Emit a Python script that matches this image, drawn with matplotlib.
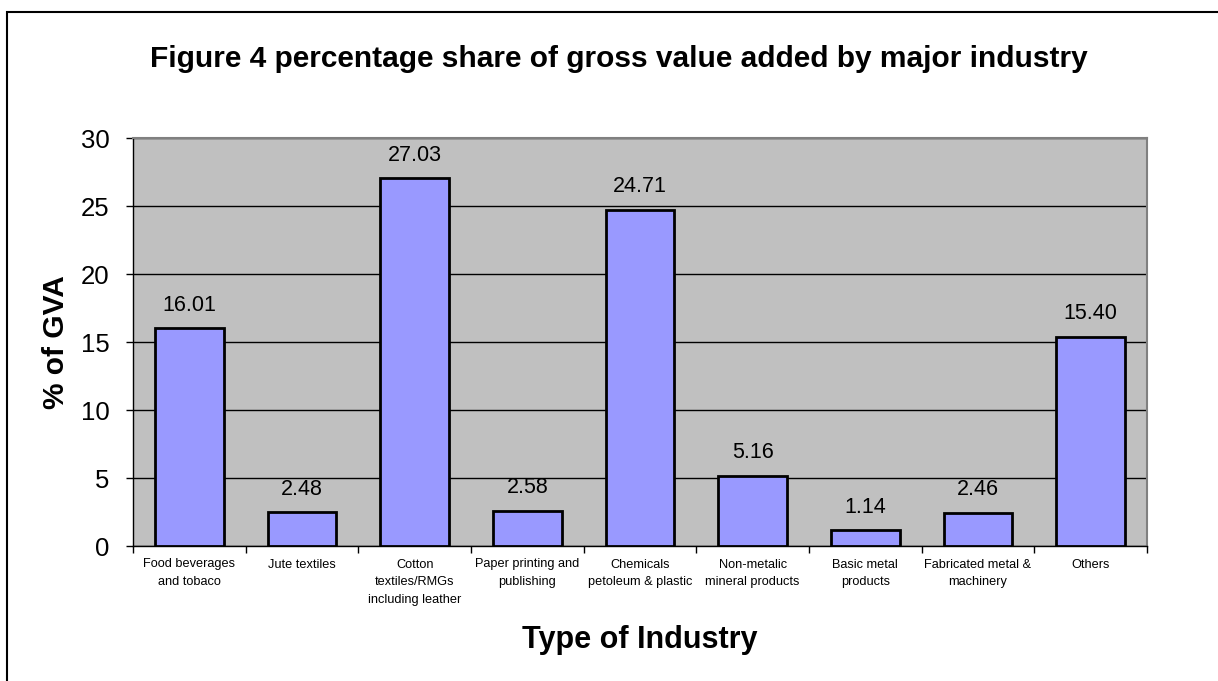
import matplotlib
matplotlib.use("Agg")
import matplotlib.pyplot as plt
from matplotlib.patches import Rectangle

plt.rcParams['font.family'] = ['Liberation Sans', 'DejaVu Sans']

categories = ["Food beverages\nand tobaco", "Jute textiles", "Cotton\ntextiles/RMGs\nincluding leather",
              "Paper printing and\npublishing", "Chemicals\npetoleum & plastic", "Non-metalic\nmineral products",
              "Basic metal\nproducts", "Fabricated metal &\nmachinery", "Others"]
values = [16.01, 2.48, 27.03, 2.58, 24.71, 5.16, 1.14, 2.46, 15.40]
yticks = [0, 5, 10, 15, 20, 25, 30]

W, H = 1218, 681
fig = plt.figure(figsize=(W / 100, H / 100), dpi=100)
fig.patch.set_facecolor('white')

# outer chart border
fig.patches.append(Rectangle((7 / W, -0.05), 1.1, 1 - 12 / H + 0.05, transform=fig.transFigure,
                             fill=False, edgecolor='black', linewidth=1.5, zorder=0))

ax = fig.add_axes([133 / W, 1 - 546 / H, (1147 - 133) / W, (546 - 138) / H])
ax.set_facecolor('#C0C0C0')

x = list(range(len(categories)))
ax.bar(x, values, width=0.61, color='#9999FF', edgecolor='black', linewidth=2, zorder=3)
for xi, v in zip(x, values):
    ax.annotate(f"{v:.2f}", (xi, v), xytext=(0, 9), textcoords='offset points',
                ha='center', va='bottom', fontsize=15.5)

ax.set_xlim(-0.5, len(categories) - 0.5)
ax.set_ylim(0, 30)
ax.set_yticks(yticks)
ax.set_yticklabels([str(t) for t in yticks], fontsize=18.5)
ax.yaxis.grid(True, color='black', linewidth=1, zorder=1)
ax.set_axisbelow(True)

ax.set_xticks([i + 0.5 for i in range(-1, len(categories))])
ax.set_xticklabels([])
ax.set_xticks(x, minor=True)
ax.set_xticklabels(categories, minor=True, fontsize=9.2, linespacing=1.65)
ax.tick_params(axis='x', which='minor', length=0, pad=9)
ax.tick_params(axis='x', which='major', length=5, width=1, direction='out')
ax.tick_params(axis='y', length=5, width=1, direction='out', pad=12)

for s in ['top', 'right']:
    ax.spines[s].set_color('#808080')
    ax.spines[s].set_linewidth(1.5)
for s in ['left', 'bottom']:
    ax.spines[s].set_color('black')
    ax.spines[s].set_linewidth(1)

ax.set_ylabel('% of GVA', fontsize=21.5, fontweight='bold', labelpad=8)
ax.set_xlabel('Type of Industry', fontsize=22, fontweight='bold', labelpad=13.5)

fig.text((148 + 1089) / 2 / W, 1 - 59 / H, 'Figure 4 percentage share of gross value added by major industry',
         ha='center', va='center', fontsize=21.5, fontweight='bold')

fig.savefig('out.png', dpi=100)
